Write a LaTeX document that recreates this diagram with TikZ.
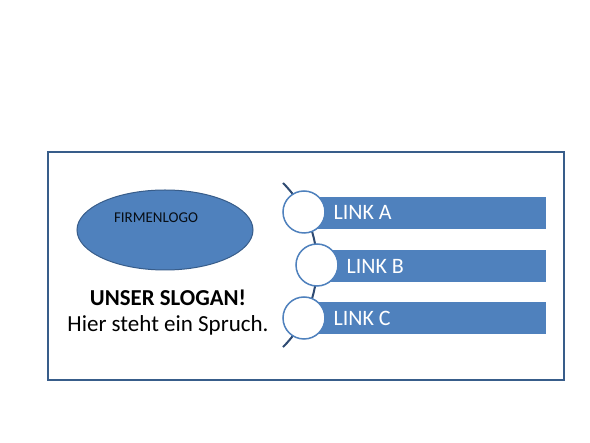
\documentclass[tikz,border=0pt]{standalone}
\usepackage{fontspec}
\setmainfont{Carlito}
\usetikzlibrary{shapes.geometric}
\definecolor{officeblue}{HTML}{4F81BD}
\definecolor{darkblue}{HTML}{385D8A}
\definecolor{linkline}{HTML}{2E4A72}
\tikzset{
  linkbar/.style={rectangle, fill=officeblue, minimum height=32pt, inner sep=0pt},
  linkdot/.style={circle, draw=officeblue, fill=white, line width=1.5pt, minimum size=42pt, inner sep=0pt},
  linktext/.style={text=white, font=\fontsize{22}{26}\selectfont, anchor=west},
}
\begin{document}
\begin{tikzpicture}[x=1pt,y=-1pt]
\useasboundingbox (0,0) rectangle (590,443);
\fill[white] (0,0) rectangle (590,443);
\node[draw=darkblue, line width=1.2pt, minimum width=516pt, minimum height=228pt, inner sep=0pt] (frame) at (306,266) {};
\node[draw=darkblue, fill=officeblue, ellipse, line width=1pt, minimum width=176pt, minimum height=80pt, inner sep=0pt] (logo) at (165,230) {};
\node[font=\fontsize{15}{18}\selectfont, text=black!85!darkblue] (logotext) at (156,218) {FIRMENLOGO};
\node[font=\bfseries\fontsize{22.8}{27}\selectfont] (slogan) at (168,298) {UNSER SLOGAN!};
\node[font=\fontsize{23}{27}\selectfont] (spruch) at (168,325) {Hier steht ein Spruch.};
\coordinate (arctop) at (283,183);
\path[draw, linkline, line width=2pt] (arctop) arc[start angle=-45, end angle=45, radius=116];
\node[linkbar, minimum width=236pt] (barA) at (428,213) {};
\node[linkbar, minimum width=220pt] (barB) at (436,266.5) {};
\node[linkbar, minimum width=236pt] (barC) at (428,318.5) {};
\node[linkdot] (dotA) at (304,212) {};
\node[linkdot] (dotB) at (317,265) {};
\node[linkdot] (dotC) at (304,318) {};
\node[linktext] (textA) at (330,212) {LINK A};
\node[linktext] (textB) at (343,266) {LINK B};
\node[linktext] (textC) at (330,318) {LINK C};
\end{tikzpicture}
\end{document}
